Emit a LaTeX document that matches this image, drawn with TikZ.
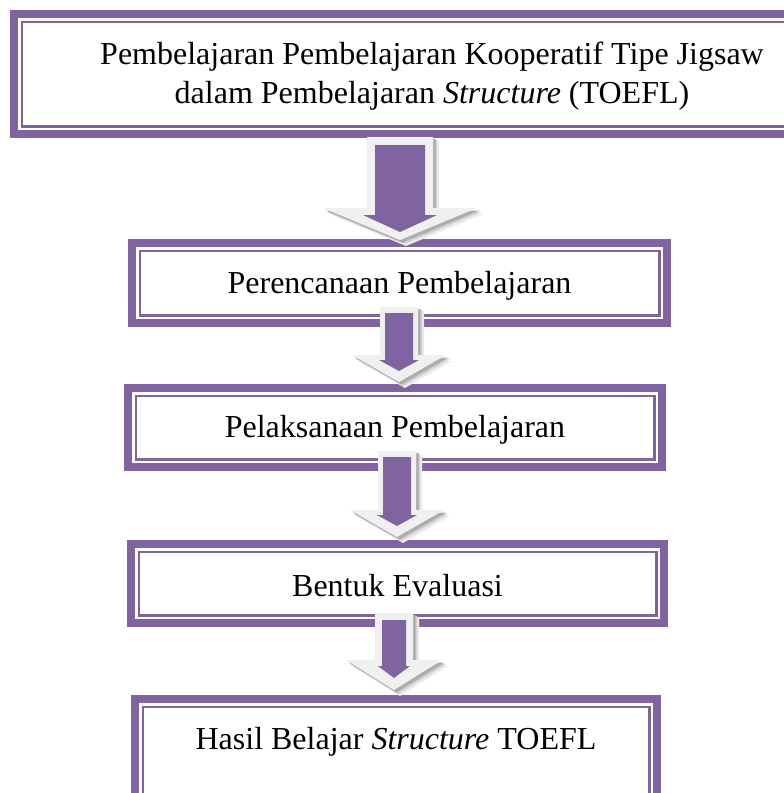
\documentclass[tikz,border=0pt]{standalone}
\usepackage{fontspec}
\setmainfont{Liberation Serif}
\usetikzlibrary{calc}
\definecolor{pur}{RGB}{128,100,162}
\newcommand\blkarrow[7]{\path[#7] (#1-#5,#2) -- (#1+#5,#2) -- (#1+#5,#3) -- (#1+#6,#3) -- (#1,#4) -- (#1-#6,#3) -- (#1-#5,#3) -- cycle;}
\newcommand\fullarrow[6]{%
  \blkarrow{#1+6}{#2+4}{#3+6}{#4+6}{#5}{#6}{arrshadowc}%
  \blkarrow{#1+4}{#2+3}{#3+4}{#4+4}{#5}{#6}{arrshadowb}%
  \blkarrow{#1+2.5}{#2+2}{#3+2.5}{#4+2.5}{#5}{#6}{arrshadow}%
  \blkarrow{#1}{#2}{#3}{#4}{#5}{#6}{arrout}}
\begin{document}
\begin{tikzpicture}[x=1pt,y=-1pt,
  box/.style={draw=pur, line width=8pt, rectangle, inner sep=0pt, outer sep=0pt, fill=white},
  lbl/.style={font=\fontsize{32}{39}\selectfont, align=center, inner sep=0pt, yshift=-2.5pt},
  arrout/.style={fill=white!94!black},
  arrin/.style={fill=pur},
  arrshadow/.style={fill=black!32},
  arrshadowb/.style={fill=black!18},
  arrshadowc/.style={fill=black!8},
  thinline/.style={draw=pur, line width=2.5pt}]
\useasboundingbox (0,0) rectangle (784,793);
\fill[white] (0,0) rectangle (784,793);
% boxes
\node[box, minimum width=836, minimum height=120] (b1) at (432,74) {};
\node[box, minimum width=535, minimum height=80] (b2) at (399.5,283) {};
\node[box, minimum width=534, minimum height=79] (b3) at (395,427.5) {};
\node[box, minimum width=533, minimum height=79] (b4) at (397.5,583.5) {};
\node[box, minimum width=522, minimum height=117] (b5) at (396,757.5) {};
\foreach \n in {b1,b2,b3,b4,b5}
  \draw[thinline] ($(\n.north west)+(7.75,7.75)$) rectangle ($(\n.south east)+(-7.75,-7.75)$);
% texts
\node[lbl] (t1) at (432,73.5) {Pembelajaran Pembelajaran Kooperatif Tipe Jigsaw\\dalam Pembelajaran \textit{Structure} (TOEFL)};
\node[lbl] (t2) at (b2.center) {Perencanaan Pembelajaran};
\node[lbl] (t3) at (b3.center) {Pelaksanaan Pembelajaran};
\node[lbl] (t4) at (b4.center) {Bentuk Evaluasi};
\node[lbl] (t5) at (396,739) {Hasil Belajar \textit{Structure} TOEFL};
% arrows
\fullarrow{400}{137}{208}{240}{33}{77}
\blkarrow{400}{145}{215}{232}{25}{37}{arrin}
\fullarrow{399}{307}{355}{382}{19}{47}
\blkarrow{399}{313}{360}{371}{14}{20}{arrin}
\fullarrow{397}{451}{510}{537}{19}{47}
\blkarrow{397}{457}{515}{526}{14}{20}{arrin}
\fullarrow{394}{613}{660}{690}{19}{48}
\blkarrow{394}{620}{666}{678}{12}{16}{arrin}
\end{tikzpicture}
\end{document}
